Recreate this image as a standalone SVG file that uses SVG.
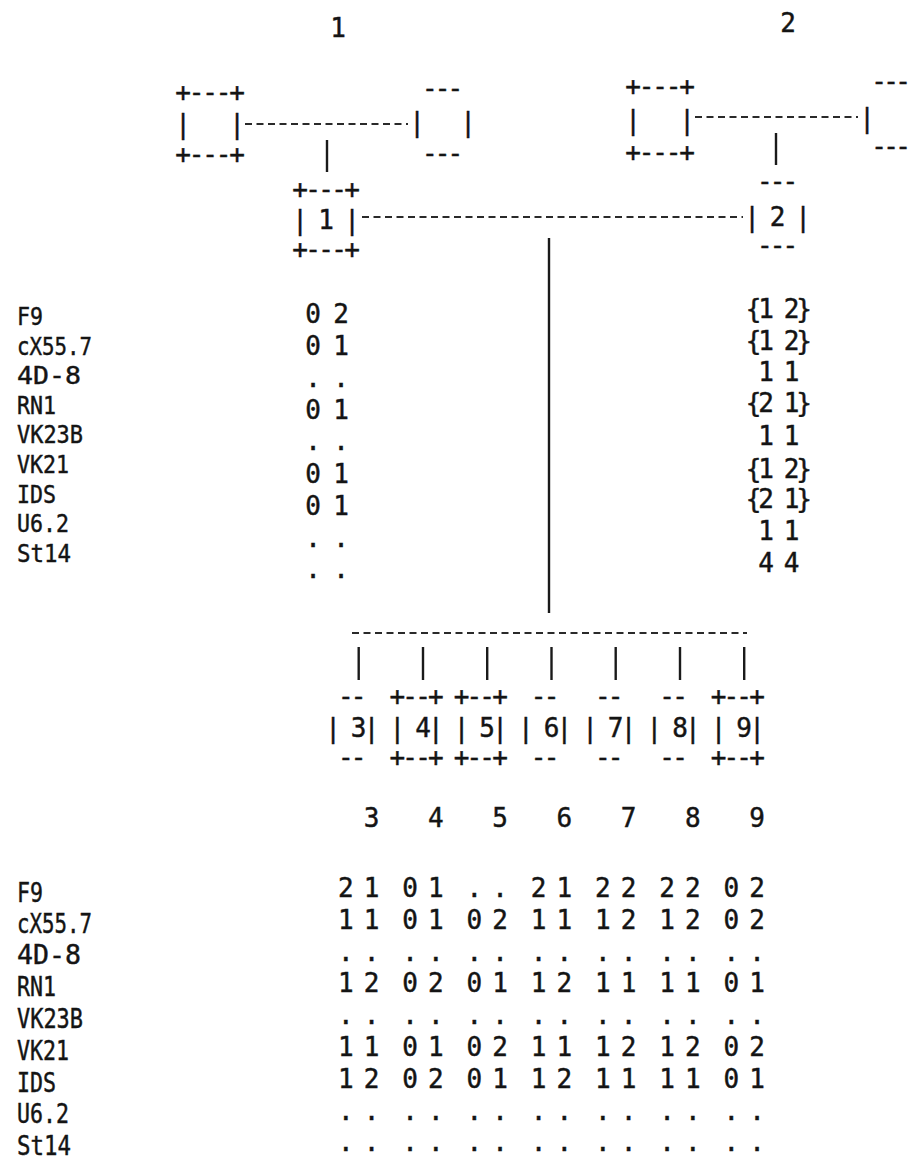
<svg xmlns="http://www.w3.org/2000/svg" width="915" height="1164" viewBox="0 0 915 1164">
<style>
text { font-family: "DejaVu Sans Mono", "Liberation Mono", monospace; font-size: 26px; fill: #141414; stroke: #141414; stroke-width: 0.45; text-anchor: middle; }
text.lb { font-size: 27px; text-anchor: start; }
text.lbt { font-size: 25.5px; text-anchor: start; }
.dash { stroke: #2a2a2a; stroke-width: 2; stroke-dasharray: 7 4.5; fill: none; }
.solid { stroke: #1a1a1a; stroke-width: 2.4; fill: none; }
</style>
<rect width="915" height="1164" fill="#ffffff"/>

<g id="family-numbers">
<text x="338" y="37">1</text>
<text x="788" y="32">2</text>
</g>

<g id="connectors">
<line class="dash" x1="245" y1="124" x2="408" y2="124"/>
<line class="solid" x1="327" y1="140" x2="327" y2="172"/>
<line class="dash" x1="695" y1="117" x2="858" y2="117"/>
<line class="solid" x1="776" y1="133" x2="776" y2="165"/>
<line class="dash" x1="362" y1="217" x2="743" y2="217"/>
<line class="solid" x1="549" y1="238" x2="549" y2="613"/>
<line class="dash" x1="352" y1="633" x2="747" y2="633"/>
<line class="solid" x1="358.7" y1="647" x2="358.7" y2="680"/>
<line class="solid" x1="423" y1="647" x2="423" y2="680"/>
<line class="solid" x1="487.2" y1="647" x2="487.2" y2="680"/>
<line class="solid" x1="551.5" y1="647" x2="551.5" y2="680"/>
<line class="solid" x1="615.7" y1="647" x2="615.7" y2="680"/>
<line class="solid" x1="680" y1="647" x2="680" y2="680"/>
<line class="solid" x1="744.2" y1="647" x2="744.2" y2="680"/>
</g>

<g id="gp1-father">
<text xml:space="preserve" x="183 196.5 210 223.5 237" y="101">+---+</text>
<text xml:space="preserve" x="183 196.5 210 223.5 237" y="133">|   |</text>
<text xml:space="preserve" x="183 196.5 210 223.5 237" y="163">+---+</text>
</g>
<g id="gp1-mother">
<text x="429.8 442.5 455.3" y="97">---</text>
<text xml:space="preserve" x="417 429.8 442.5 455.3 468" y="131">|   |</text>
<text x="429.8 442.5 455.3" y="162">---</text>
</g>
<g id="gp2-father">
<text xml:space="preserve" x="633 646.5 660 673.5 687" y="95">+---+</text>
<text xml:space="preserve" x="633 646.5 660 673.5 687" y="129">|   |</text>
<text xml:space="preserve" x="633 646.5 660 673.5 687" y="161">+---+</text>
</g>
<g id="gp2-mother">
<text x="879 891 903" y="90">---</text>
<text x="867" y="127">|</text>
<text x="879 891 903" y="155">---</text>
</g>

<g id="node-1">
<text xml:space="preserve" x="300 313 326 339 352" y="198">+---+</text>
<text xml:space="preserve" x="300 313 326 339 352" y="229">| 1 |</text>
<text xml:space="preserve" x="300 313 326 339 352" y="258">+---+</text>
<g id="node-1-data">
<text x="313 327 341" y="323">0 2</text>
<text x="313 327 341" y="355">0 1</text>
<text x="313 327 341" y="387">. .</text>
<text x="313 327 341" y="419">0 1</text>
<text x="313 327 341" y="450">. .</text>
<text x="313 327 341" y="483">0 1</text>
<text x="313 327 341" y="515">0 1</text>
<text x="313 327 341" y="547">. .</text>
<text x="313 327 341" y="578">. .</text>
</g>
</g>

<g id="node-2">
<text x="764.8 777.5 790.3" y="190">---</text>
<text xml:space="preserve" x="752 764.8 777.5 790.3 803" y="226">| 2 |</text>
<text x="764.8 777.5 790.3" y="254">---</text>
<g id="node-2-data">
<text x="753.5 766 778.8 791.5 804" y="318">{1 2}</text>
<text x="753.5 766 778.8 791.5 804" y="350">{1 2}</text>
<text x="766 778.8 791.5" y="381">1 1</text>
<text x="753.5 766 778.8 791.5 804" y="412">{2 1}</text>
<text x="766 778.8 791.5" y="445">1 1</text>
<text x="753.5 766 778.8 791.5 804" y="478">{1 2}</text>
<text x="753.5 766 778.8 791.5 804" y="508">{2 1}</text>
<text x="766 778.8 791.5" y="540">1 1</text>
<text x="766 778.8 791.5" y="572">4 4</text>
</g>
</g>

<g id="markers-top">
<text class="lbt" x="17" y="325" textLength="26" lengthAdjust="spacingAndGlyphs">F9</text>
<text class="lbt" x="17" y="355" textLength="75" lengthAdjust="spacingAndGlyphs">cX55.7</text>
<text class="lbt" x="17" y="384" textLength="64" lengthAdjust="spacingAndGlyphs">4D-8</text>
<text class="lbt" x="17" y="414" textLength="39" lengthAdjust="spacingAndGlyphs">RN1</text>
<text class="lbt" x="17" y="443" textLength="66" lengthAdjust="spacingAndGlyphs">VK23B</text>
<text class="lbt" x="17" y="473" textLength="52" lengthAdjust="spacingAndGlyphs">VK21</text>
<text class="lbt" x="17" y="503" textLength="39" lengthAdjust="spacingAndGlyphs">IDS</text>
<text class="lbt" x="17" y="532" textLength="52" lengthAdjust="spacingAndGlyphs">U6.2</text>
<text class="lbt" x="17" y="562" textLength="54" lengthAdjust="spacingAndGlyphs">St14</text>
</g>

<g id="markers-bottom">
<text class="lb" x="17" y="902" textLength="26" lengthAdjust="spacingAndGlyphs">F9</text>
<text class="lb" x="17" y="933" textLength="75" lengthAdjust="spacingAndGlyphs">cX55.7</text>
<text class="lb" x="17" y="964" textLength="64" lengthAdjust="spacingAndGlyphs">4D-8</text>
<text class="lb" x="17" y="996" textLength="39" lengthAdjust="spacingAndGlyphs">RN1</text>
<text class="lb" x="17" y="1028" textLength="66" lengthAdjust="spacingAndGlyphs">VK23B</text>
<text class="lb" x="17" y="1060" textLength="52" lengthAdjust="spacingAndGlyphs">VK21</text>
<text class="lb" x="17" y="1092" textLength="39" lengthAdjust="spacingAndGlyphs">IDS</text>
<text class="lb" x="17" y="1123" textLength="52" lengthAdjust="spacingAndGlyphs">U6.2</text>
<text class="lb" x="17" y="1155" textLength="54" lengthAdjust="spacingAndGlyphs">St14</text>
</g>

<g id="node-3">
<text x="345.9 358.7" y="705">--</text>
<text xml:space="preserve" x="333 345.9 358.7 371.6" y="737">| 3|</text>
<text x="345.9 358.7" y="766">--</text>
<text x="371.6" y="827">3</text>
<text x="345.9 358.7 371.6" y="897">2 1</text>
<text x="345.9 358.7 371.6" y="929">1 1</text>
<text x="345.9 358.7 371.6" y="961">. .</text>
<text x="345.9 358.7 371.6" y="992">1 2</text>
<text x="345.9 358.7 371.6" y="1024">. .</text>
<text x="345.9 358.7 371.6" y="1056">1 1</text>
<text x="345.9 358.7 371.6" y="1088">1 2</text>
<text x="345.9 358.7 371.6" y="1120">. .</text>
<text x="345.9 358.7 371.6" y="1151">. .</text>
</g>

<g id="node-4">
<text x="397.3 410.1 423 435.8" y="705">+--+</text>
<text xml:space="preserve" x="397.3 410.1 423 435.8" y="737">| 4|</text>
<text x="397.3 410.1 423 435.8" y="766">+--+</text>
<text x="435.8" y="827">4</text>
<text x="410.1 423 435.8" y="897">0 1</text>
<text x="410.1 423 435.8" y="929">0 1</text>
<text x="410.1 423 435.8" y="961">. .</text>
<text x="410.1 423 435.8" y="992">0 2</text>
<text x="410.1 423 435.8" y="1024">. .</text>
<text x="410.1 423 435.8" y="1056">0 1</text>
<text x="410.1 423 435.8" y="1088">0 2</text>
<text x="410.1 423 435.8" y="1120">. .</text>
<text x="410.1 423 435.8" y="1151">. .</text>
</g>

<g id="node-5">
<text x="461.5 474.4 487.2 500.1" y="705">+--+</text>
<text xml:space="preserve" x="461.5 474.4 487.2 500.1" y="737">| 5|</text>
<text x="461.5 474.4 487.2 500.1" y="766">+--+</text>
<text x="500.1" y="827">5</text>
<text x="474.4 487.2 500.1" y="897">. .</text>
<text x="474.4 487.2 500.1" y="929">0 2</text>
<text x="474.4 487.2 500.1" y="961">. .</text>
<text x="474.4 487.2 500.1" y="992">0 1</text>
<text x="474.4 487.2 500.1" y="1024">. .</text>
<text x="474.4 487.2 500.1" y="1056">0 2</text>
<text x="474.4 487.2 500.1" y="1088">0 1</text>
<text x="474.4 487.2 500.1" y="1120">. .</text>
<text x="474.4 487.2 500.1" y="1151">. .</text>
</g>

<g id="node-6">
<text x="538.6 551.5" y="705">--</text>
<text xml:space="preserve" x="525.8 538.6 551.5 564.3" y="737">| 6|</text>
<text x="538.6 551.5" y="766">--</text>
<text x="564.3" y="827">6</text>
<text x="538.6 551.5 564.3" y="897">2 1</text>
<text x="538.6 551.5 564.3" y="929">1 1</text>
<text x="538.6 551.5 564.3" y="961">. .</text>
<text x="538.6 551.5 564.3" y="992">1 2</text>
<text x="538.6 551.5 564.3" y="1024">. .</text>
<text x="538.6 551.5 564.3" y="1056">1 1</text>
<text x="538.6 551.5 564.3" y="1088">1 2</text>
<text x="538.6 551.5 564.3" y="1120">. .</text>
<text x="538.6 551.5 564.3" y="1151">. .</text>
</g>

<g id="node-7">
<text x="602.9 615.7" y="705">--</text>
<text xml:space="preserve" x="590 602.9 615.7 628.6" y="737">| 7|</text>
<text x="602.9 615.7" y="766">--</text>
<text x="628.6" y="827">7</text>
<text x="602.9 615.7 628.6" y="897">2 2</text>
<text x="602.9 615.7 628.6" y="929">1 2</text>
<text x="602.9 615.7 628.6" y="961">. .</text>
<text x="602.9 615.7 628.6" y="992">1 1</text>
<text x="602.9 615.7 628.6" y="1024">. .</text>
<text x="602.9 615.7 628.6" y="1056">1 2</text>
<text x="602.9 615.7 628.6" y="1088">1 1</text>
<text x="602.9 615.7 628.6" y="1120">. .</text>
<text x="602.9 615.7 628.6" y="1151">. .</text>
</g>

<g id="node-8">
<text x="667.1 680" y="705">--</text>
<text xml:space="preserve" x="654.3 667.1 680 692.8" y="737">| 8|</text>
<text x="667.1 680" y="766">--</text>
<text x="692.8" y="827">8</text>
<text x="667.1 680 692.8" y="897">2 2</text>
<text x="667.1 680 692.8" y="929">1 2</text>
<text x="667.1 680 692.8" y="961">. .</text>
<text x="667.1 680 692.8" y="992">1 1</text>
<text x="667.1 680 692.8" y="1024">. .</text>
<text x="667.1 680 692.8" y="1056">1 2</text>
<text x="667.1 680 692.8" y="1088">1 1</text>
<text x="667.1 680 692.8" y="1120">. .</text>
<text x="667.1 680 692.8" y="1151">. .</text>
</g>

<g id="node-9">
<text x="718.5 731.4 744.2 757.1" y="705">+--+</text>
<text xml:space="preserve" x="718.5 731.4 744.2 757.1" y="737">| 9|</text>
<text x="718.5 731.4 744.2 757.1" y="766">+--+</text>
<text x="757.1" y="827">9</text>
<text x="731.4 744.2 757.1" y="897">0 2</text>
<text x="731.4 744.2 757.1" y="929">0 2</text>
<text x="731.4 744.2 757.1" y="961">. .</text>
<text x="731.4 744.2 757.1" y="992">0 1</text>
<text x="731.4 744.2 757.1" y="1024">. .</text>
<text x="731.4 744.2 757.1" y="1056">0 2</text>
<text x="731.4 744.2 757.1" y="1088">0 1</text>
<text x="731.4 744.2 757.1" y="1120">. .</text>
<text x="731.4 744.2 757.1" y="1151">. .</text>
</g>
</svg>
